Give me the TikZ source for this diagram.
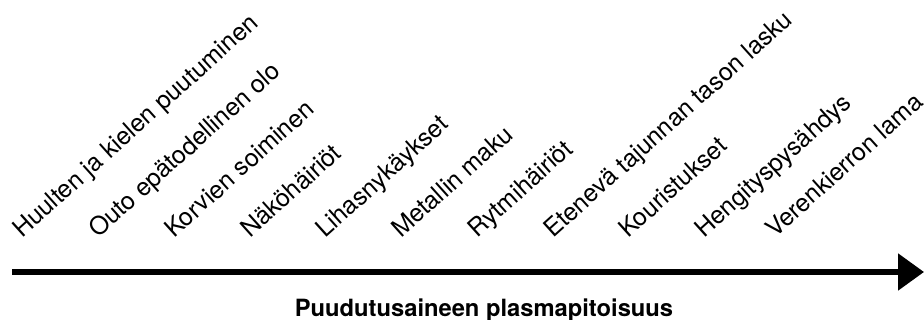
\documentclass[tikz,border=0pt]{standalone}
\usepackage{fontspec}
\setmainfont{TeX Gyre Heros}
\usetikzlibrary{arrows.meta}
\tikzset{
  sym/.style={anchor=base west, rotate=42, inner sep=0pt, font=\fontsize{18.6}{22}\selectfont},
  axislabel/.style={anchor=base, inner sep=0pt, font=\fontsize{17.8}{21}\selectfont\bfseries},
  axis/.style={line width=4pt, -{Triangle[length=19.5pt,width=27pt]}}
}
\begin{document}
\begin{tikzpicture}[x=0.75pt,y=-0.75pt]
\useasboundingbox (0,0) rectangle (924,320);
\node[sym] (s1) at (22,239) {Huulten ja kielen puutuminen};
\node[sym] (s2) at (98,239) {Outo epätodellinen olo};
\node[sym] (s3) at (174,239) {Korvien soiminen};
\node[sym] (s4) at (250,239) {Näköhäiriöt};
\node[sym] (s5) at (325,239) {Lihasnykäykset};
\node[sym] (s6) at (401,239) {Metallin maku};
\node[sym] (s7) at (477,239) {Rytmihäiriöt};
\node[sym] (s8) at (553,239) {Etenevä tajunnan tason lasku};
\node[sym] (s9) at (628,239) {Kouristukset};
\node[sym] (s10) at (704,239) {Hengityspysähdys};
\node[sym] (s11) at (775,239) {Verenkierron lama};
\coordinate (a0) at (12,272);
\coordinate (a1) at (924,272);
\draw[axis] (a0) -- (a1);
\node[axislabel] (lab) at (484,316) {Puudutusaineen plasmapitoisuus};
\end{tikzpicture}
\end{document}
